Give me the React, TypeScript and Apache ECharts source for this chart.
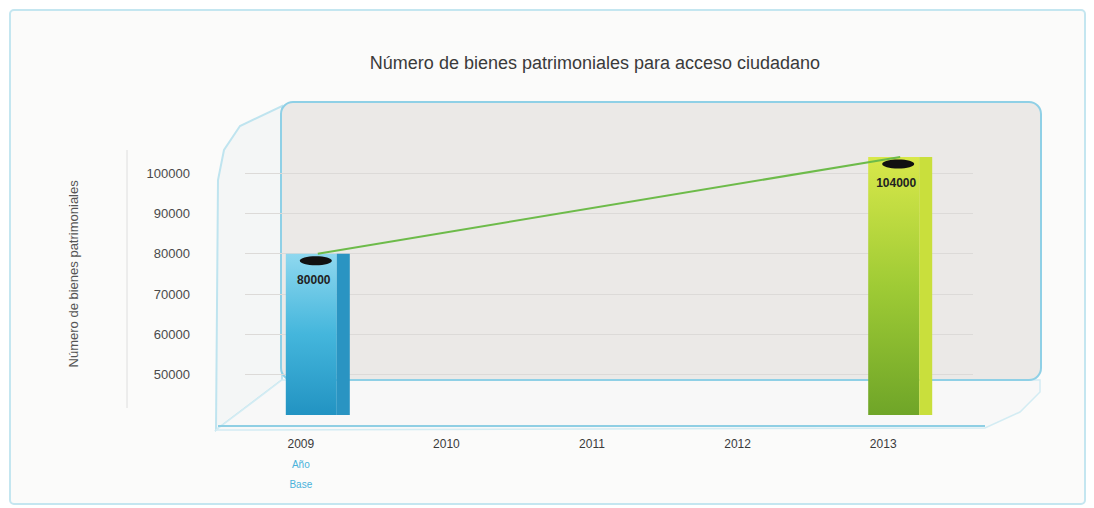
import React, { useEffect, useRef } from "react";
import * as echarts from "echarts";

const titleText = "Número de bienes patrimoniales para acceso ciudadano";
const yAxisTitle = "Número de bienes patrimoniales";
const years = ["2009", "2010", "2011", "2012", "2013"];
const barValues: (number | null)[] = [80000, null, null, null, 104000];
const yMin = 40000;
const yMax = 110000;
const yStep = 10000;
const baseLabels = ["Año", "Base"];

const barPalettes = [
  { light: "#8fd8ef", mid: "#44b6dc", dark: "#2293c2", side: "#2a94c2" },
  { light: "#d8e84a", mid: "#9fcb35", dark: "#6fa528", side: "#c9df3c" },
];

export default function App() {
  const ref = useRef<HTMLDivElement>(null);
  useEffect(() => {
    if (!ref.current) return;
    const chart = echarts.init(ref.current, null, { renderer: "svg" });
    const barData: [number, number][] = [];
    barValues.forEach((v, i) => {
      if (v != null) barData.push([i, v]);
    });
    const option: any = {
      animation: false,
      backgroundColor: "#ffffff",
      title: {
        text: titleText,
        left: 590,
        top: 49,
        textAlign: "center",
        textStyle: { fontFamily: "Arial, Liberation Sans", fontSize: 18, fontWeight: "normal", color: "#3a3a3a" },
      },
      graphic: [
        { type: "rect", z: -20, shape: { x: 10, y: 10, width: 1075, height: 494, r: 4 }, style: { fill: "#fbfbfa", stroke: "#c4e6f0", lineWidth: 2 } },
        { type: "line", z: -19, shape: { x1: 127, y1: 150, x2: 127, y2: 408 }, style: { stroke: "#dedede", lineWidth: 1 } },
        { type: "polygon", z: -18, shape: { points: [[216, 430], [218, 180], [224, 150], [240, 126], [282, 106], [282, 380]] }, style: { fill: "#f4f6f6", stroke: "#bfe4ef", lineWidth: 2 } },
        { type: "polygon", z: -18, shape: { points: [[216, 430], [282, 380], [1040, 380], [1040, 392], [1020, 412], [985, 428]] }, style: { fill: "#f8f8f8", stroke: "#d3ecf3", lineWidth: 1.5 } },
        { type: "rect", z: -17, shape: { x: 281, y: 102, width: 760, height: 278, r: 12 }, style: { fill: "#ebe9e7", stroke: "#8fd0e6", lineWidth: 2 } },
        { type: "line", z: -16, shape: { x1: 218, y1: 426, x2: 985, y2: 426 }, style: { stroke: "#8fcfe4", lineWidth: 2 } },
      ],
      grid: { left: 245, right: 121, top: 132.7, bottom: 93 },
      xAxis: {
        type: "category",
        data: years,
        boundaryGap: true,
        axisLine: { show: false },
        axisTick: { show: false },
        axisLabel: {
          margin: 18,
          color: "#3a3a3a",
          fontFamily: "Arial, Liberation Sans",
          fontSize: 12,
          lineHeight: 21,
          padding: [0, 34, 0, 0],
          formatter: (v: string, i: number) => (i === 0 ? v + "\n{b|" + baseLabels[0] + "}\n{b|" + baseLabels[1] + "}" : v),
          rich: { b: { color: "#4ab2da", fontSize: 10, lineHeight: 20, fontFamily: "Arial, Liberation Sans" } },
        },
      },
      yAxis: {
        type: "value",
        min: yMin,
        max: yMax,
        interval: yStep,
        name: yAxisTitle,
        nameLocation: "middle",
        nameRotate: 90,
        nameGap: 165,
        nameTextStyle: { color: "#555", fontSize: 13, fontFamily: "Arial, Liberation Sans" },
        axisLine: { show: false },
        axisTick: { show: false },
        axisLabel: {
          showMinLabel: false,
          showMaxLabel: false,
          margin: 55,
          color: "#4a4a4a",
          fontSize: 13,
          fontFamily: "Arial, Liberation Sans",
          formatter: (v: number) => String(v),
        },
        splitLine: { show: true, showMinLine: false, showMaxLine: false, lineStyle: { color: "#dcdad8", width: 1 } },
      },
      series: [
        {
          type: "custom",
          z: 2,
          data: barData,
          renderItem: (params: any, api: any) => {
            const idx = api.value(0);
            const v = api.value(1);
            const top = api.coord([idx, v]);
            const bot = api.coord([idx, yMin]);
            const p = barPalettes[params.dataIndex % barPalettes.length];
            const w = 64;
            const sideW = 13;
            const x0 = top[0] - w / 2;
            const h = bot[1] - top[1];
            return {
              type: "group",
              children: [
                {
                  type: "rect",
                  shape: { x: x0, y: top[1], width: w - sideW, height: h },
                  style: {
                    fill: new echarts.graphic.LinearGradient(0, 0, 0, 1, [
                      { offset: 0, color: p.light },
                      { offset: 0.5, color: p.mid },
                      { offset: 1, color: p.dark },
                    ]),
                  },
                },
                {
                  type: "rect",
                  shape: { x: x0 + w - sideW, y: top[1], width: sideW, height: h },
                  style: { fill: p.side },
                },
                {
                  type: "ellipse",
                  shape: { cx: top[0] - 2, cy: top[1] + 7, rx: 16, ry: 4.5 },
                  style: { fill: "#111111" },
                },
                {
                  type: "text",
                  style: {
                    text: String(v),
                    x: top[0] - 4,
                    y: top[1] + 26,
                    align: "center",
                    verticalAlign: "middle",
                    font: "bold 12px Arial, Liberation Sans",
                    fill: "#222222",
                  },
                },
              ],
            };
          },
        },
        {
          type: "line",
          z: 3,
          data: barValues,
          connectNulls: true,
          symbol: "none",
          lineStyle: { color: "#6dbb4a", width: 2 },
        },
      ],
    };
    chart.setOption(option);
    return () => chart.dispose();
  }, []);
  return <div ref={ref} style={{ position: "fixed", left: 0, top: 0, width: 1094, height: 508 }} />;
}
